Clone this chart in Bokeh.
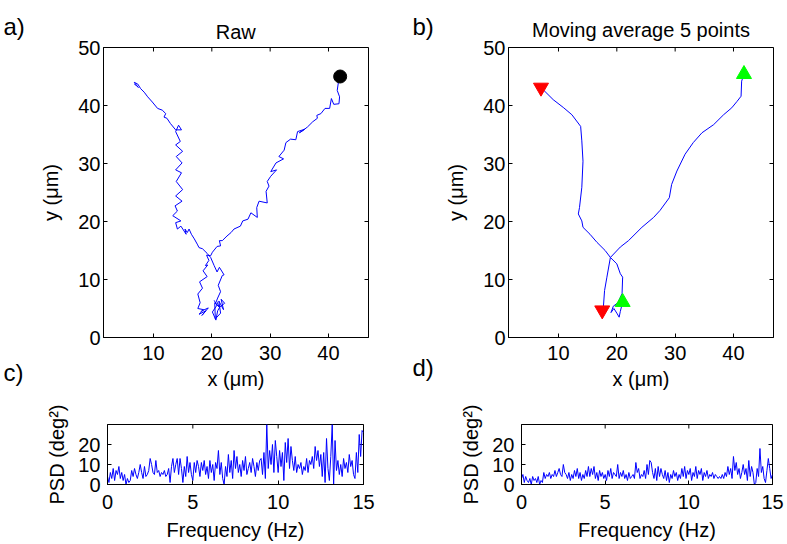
import numpy as np
from bokeh.plotting import figure
from bokeh.layouts import column, row
from bokeh.models import Label, FixedTicker, Range1d
from bokeh.embed import file_html
from bokeh.resources import INLINE

FONT = "Liberation Sans"
TICK_FS = "20px"
LAB_FS = "20px"

# ---------------- data ----------------
# raw track 1 (starts top right, ends bottom)
x1r = [41.7, 41.5, 41.9, 41.8, 40.9, 40.5, 40.2, 39.4, 38.7, 38.0,
       38.1, 37.3, 36.4, 35.5, 35.0, 35.9, 34.7, 34.4, 33.5, 32.7,
       32.4, 31.5, 32.3, 31.0, 30.1, 31.1, 30.1, 29.5, 29.8, 29.3,
       29.5, 28.1, 27.7, 27.8, 26.7, 26.2, 25.3, 24.9, 23.8, 23.3,
       22.6, 21.8, 21.3, 21.5, 20.9, 20.1, 19.8, 19.1, 19.5, 18.9,
       19.3, 18.5, 19.2, 17.9, 18.4, 17.6, 18.0, 17.6, 18.6, 17.8,
       19.0, 18.3, 19.4, 18.1]
y1r = [44.0, 42.6, 41.5, 40.3, 40.2, 41.2, 39.5, 39.5, 38.6, 38.3,
       37.8, 37.2, 36.3, 35.6, 35.3, 35.9, 35.5, 34.1, 34.2, 33.6,
       32.3, 31.2, 30.8, 30.1, 28.6, 28.9, 27.8, 26.9, 26.1, 25.2,
       23.2, 23.5, 22.4, 20.7, 21.5, 20.4, 20.1, 19.2, 18.7, 18.1,
       17.5, 16.7, 16.7, 15.8, 15.7, 14.7, 14.1, 14.2, 13.3, 12.4,
       12.5, 11.5, 10.5, 9.6, 8.5, 7.5, 6.0, 5.0, 4.8, 4.0,
       4.6, 3.8, 5.1, 4.5]
# raw track 2 (starts bottom, ends top left)
x2r = [20.4, 20.9, 20.1, 20.7, 21.0, 21.4, 22.2, 21.6, 22.0, 21.2,
       21.5, 20.6, 20.5, 21.3, 20.8, 21.0, 21.5, 21.1, 21.8, 22.1,
       21.3, 20.9, 20.4, 19.8, 19.2, 18.4, 17.8, 17.5, 17.0, 16.5,
       16.1, 15.8, 15.4, 15.6, 14.7, 14.1, 13.8, 14.7, 13.3, 14.1,
       13.7, 14.9, 13.8, 15.0, 13.9, 14.8, 13.8, 14.9, 13.9, 15.0,
       13.8, 14.6, 13.8, 14.3, 14.8, 13.8, 12.9, 12.3, 11.8, 12.1,
       11.5, 10.7, 9.8, 9.0, 8.4, 7.8, 7.3, 6.7, 7.4, 7.0, 6.7]
y2r = [6.4, 5.6, 4.4, 3.0, 4.6, 5.3, 5.9, 6.6, 4.8, 6.3,
       4.2, 3.2, 6.0, 5.2, 6.3, 6.8, 7.9, 9.0, 10.7, 10.8,
       12.1, 11.3, 12.4, 13.8, 14.5, 15.3, 15.5, 16.1, 17.0, 17.8,
       18.7, 18.1, 18.7, 17.8, 19.2, 18.7, 19.8, 20.1, 21.0, 21.8,
       22.7, 23.5, 24.4, 25.5, 26.9, 28.4, 28.9, 30.1, 31.2, 32.1,
       33.2, 33.8, 35.5, 36.6, 35.8, 35.8, 36.9, 37.8, 38.0, 38.6,
       39.2, 39.5, 40.6, 41.5, 42.3, 42.9, 43.7, 44.0, 43.1, 43.5, 43.7]
dot_x = [42.0]
dot_y = [45.0]

# moving-average tracks
x1s = [41.8, 41.4, 41.3, 40.6, 39.7, 38.3, 36.6, 34.6, 33.1, 31.7, 30.3, 29.4,
       29.0, 27.4, 26.3, 24.3, 22.0, 20.6, 18.9, 18.3, 17.9, 17.7, 17.5]
y1s = [45.4, 44.2, 41.6, 40.7, 39.6, 38.4, 36.7, 35.3, 33.6, 31.6, 28.7, 26.4,
       24.1, 21.9, 20.7, 19.0, 16.7, 15.6, 13.8, 10.4, 8.1, 5.3, 4.7]
x2s = [21.0, 20.6, 20.4, 20.0, 19.5, 19.0, 19.4, 20.2, 20.9, 21.0, 20.6, 20.0,
       18.9, 18.0, 16.6, 15.4, 14.2, 14.0, 13.4, 13.6, 14.0, 14.2, 14.0, 13.8,
       12.3, 10.9, 9.1, 7.7, 7.0]
y2s = [6.1, 4.5, 3.5, 4.2, 5.0, 4.3, 5.4, 6.0, 7.6, 10.4, 11.0, 12.7,
       13.8, 15.0, 16.4, 17.8, 19.0, 20.1, 21.3, 22.4, 25.9, 30.4, 33.9, 36.4,
       38.4, 39.6, 41.0, 42.4, 43.1]

# power spectral density (0 .. 15 Hz)
psd_raw = [4, 1, 6, 3, 8, 2, 7, 5, 9, 3, 6, 2,
           5, 0, 3, 1, 2, 7, 4, 8, 5, 3, 6, 10,
           6, 3, 9, 4, 5, 7, 13, 10, 6, 5, 12, 6,
           7, 4, 6, 5, 7, 4, 5, 8, 1, 9, 13, 6,
           10, 13, 5, 13, 8, 1, 9, 4, 14, 6, 11, 5,
           2, 11, 6, 12, 9, 4, 11, 7, 12, 5, 9, 3,
           12, 6, 10, 2, 11, 8, 17, 5, 11, 3, 0, 9,
           4, 15, 6, 12, 3, 17, 8, 14, 6, 10, 4, 12,
           7, 14, 5, 8, 11, 6, 13, 9, 4, 11, 7, 12,
           13, 5, 16, 3, 30, 8, 17, 10, 20, 6, 22, 14,
           6, 17, 9, 16, 2, 21, 11, 23, 8, 19, 12, 7,
           14, 6, 10, 8, 11, 5, 9, 7, 13, 6, 12, 10,
           14, 8, 19, 12, 17, 9, 15, 4, 16, 1, 23, 8,
           2, 14, 30, 0, 22, 7, 12, 5, 10, 4, 13, 8,
           11, 6, 15, 9, 12, 5, 3, 16, 6, 25, 14, 27,
           26]
psd_avg = [3, 5, 1, 4, 2, 1, 3, 0, 4, 2, 3, 1,
           4, 0, 2, 1, 6, 3, 5, 4, 6, 3, 5, 4,
           7, 4, 6, 8, 5, 4, 10, 6, 5, 3, 6, 2,
           5, 3, 7, 4, 8, 3, 6, 2, 5, 3, 7, 4,
           9, 4, 8, 5, 9, 3, 6, 2, 7, 4, 6, 3,
           5, 2, 7, 4, 8, 3, 6, 5, 4, 10, 3, 6,
           4, 7, 3, 5, 2, 6, 3, 4, 5, 3, 11, 6,
           8, 3, 5, 4, 7, 3, 10, 5, 12, 11, 6, 3,
           8, 2, 9, 4, 8, 5, 3, 7, 2, 6, 1, 5,
           3, 7, 4, 6, 2, 5, 3, 8, 4, 9, 3, 7,
           5, 8, 2, 6, 4, 9, 3, 7, 5, 8, 2, 6,
           4, 7, 3, 5, 4, 6, 3, 5, 4, 3, 4, 3,
           5, 3, 6, 4, 9, 5, 8, 3, 14, 7, 11, 5,
           8, 3, 6, 10, 5, 8, 2, 12, 4, 9, 6, 0,
           1, 8, 4, 18, 6, 9, 3, 1, 7, 13, 8, 3,
           5]
freq = np.linspace(0, 15, len(psd_raw))

xy_ticks = [10, 20, 30, 40]
yy_ticks = [0, 10, 20, 30, 40, 50]
f_ticks = [0, 5, 10, 15]
p_ticks = [0, 10, 20]

XR = (1.43, 46.86)
YR = (0, 50)
FR = (0, 15)
PR = (0, 30)


def make_fig(w, h, bl, br, bt, bb, xr, yr):
    p = figure(width=w, height=h, min_border_left=bl, min_border_right=br,
               min_border_top=bt, min_border_bottom=bb,
               x_range=Range1d(*xr), y_range=Range1d(*yr),
               output_backend="svg", toolbar_location=None)
    p.xgrid.visible = False
    p.ygrid.visible = False
    p.outline_line_color = "black"
    p.outline_line_width = 1
    p.background_fill_color = "white"
    p.border_fill_color = "white"
    return p


def style_axes(p, xt, yt, xr, yr, xlab, ylab, xstand, ystand, xlabstand, ylabstand):
    p.xaxis.ticker = FixedTicker(ticks=xt)
    p.yaxis.ticker = FixedTicker(ticks=yt)
    p.xaxis.axis_label = xlab
    p.yaxis.axis_label = ylab
    p.xaxis.major_label_standoff = xstand
    p.yaxis.major_label_standoff = ystand
    p.xaxis.axis_label_standoff = xlabstand
    p.yaxis.axis_label_standoff = ylabstand
    for ax in (p.xaxis[0], p.yaxis[0]):
        ax.major_tick_in = 4
        ax.major_tick_out = 0
        ax.minor_tick_line_color = None
        ax.axis_line_color = "black"
        ax.major_tick_line_color = "black"
        ax.major_label_text_font = FONT
        ax.major_label_text_font_size = TICK_FS
        ax.major_label_text_color = "black"
        ax.axis_label_text_font = FONT
        ax.axis_label_text_font_size = LAB_FS
        ax.axis_label_text_font_style = "normal"
        ax.axis_label_text_color = "black"
    # mirrored inward ticks on the top and right edges (half of each dash is clipped by the frame)
    p.scatter(xt, [yr[1]] * len(xt), marker="dash", size=8, angle=np.pi / 2,
              line_color="black", line_width=1)
    p.scatter([xr[1]] * len(yt), yt, marker="dash", size=8,
              line_color="black", line_width=1)


def add_text(p, side, x, y, text, size, align="left"):
    p.add_layout(Label(x=x, y=y, x_units="canvas", y_units="canvas", text=text,
                       text_font=FONT, text_font_size=size, text_align=align,
                       text_baseline="alphabetic", text_color="black"), side)


# panel a
fa = make_fig(400, 395, 103, 32, 47, 56, XR, YR)
style_axes(fa, xy_ticks, yy_ticks, XR, YR, "x (μm)", "y (μm)", 8, 3, 5, 13)
fa.line(x1r, y1r, color="#0000ff", line_width=1)
fa.line(x2r, y2r, color="#0000ff", line_width=1)
fa.scatter(dot_x, dot_y, marker="circle", size=13, color="black")
add_text(fa, "above", 235.3, 31, "Raw", "20px", "center")
add_text(fa, "left", 3, 26, "a)", "24px")
add_text(fa, "right", 3, 372, "c)", "24px")

# panel b
fb = make_fig(387, 395, 108, 14, 46, 58, XR, YR)
style_axes(fb, xy_ticks, yy_ticks, XR, YR, "x (μm)", "y (μm)", 8, 3, 5, 13)
fb.line(x1s, y1s, color="#0000ff", line_width=1)
fb.line(x2s, y2s, color="#0000ff", line_width=1)
fb.scatter([x1s[0], x2s[0]], [y1s[0], y2s[0]], marker="triangle", size=15, color="#00ff00")
fb.scatter([x1s[-1], x2s[-1]], [y1s[-1], y2s[-1]], marker="inverted_triangle", size=15, color="#ff0000")
add_text(fb, "above", 240.5, 29, "Moving average 5 points", "20px", "center")
add_text(fb, "left", 12, 26, "b)", "24px")
add_text(fb, "left", 12, 367, "d)", "24px")

# panel c
fc = make_fig(400, 149, 107, 37, 29, 60, FR, PR)
style_axes(fc, f_ticks, p_ticks, FR, PR, "Frequency (Hz)", "PSD (deg²)", 10, 7, 7, 7)
fc.line(freq, psd_raw, color="#0000ff", line_width=1)

# panel d
fd = make_fig(387, 149, 121, 15, 28, 59, FR, PR)
style_axes(fd, f_ticks, p_ticks, FR, PR, "Frequency (Hz)", "PSD (deg²)", 10, 7, 7, 7)
fd.line(freq, psd_avg, color="#0000ff", line_width=1)

layout = column(row(fa, fb), row(fc, fd))
open("out.html", "w").write(file_html(layout, INLINE))
